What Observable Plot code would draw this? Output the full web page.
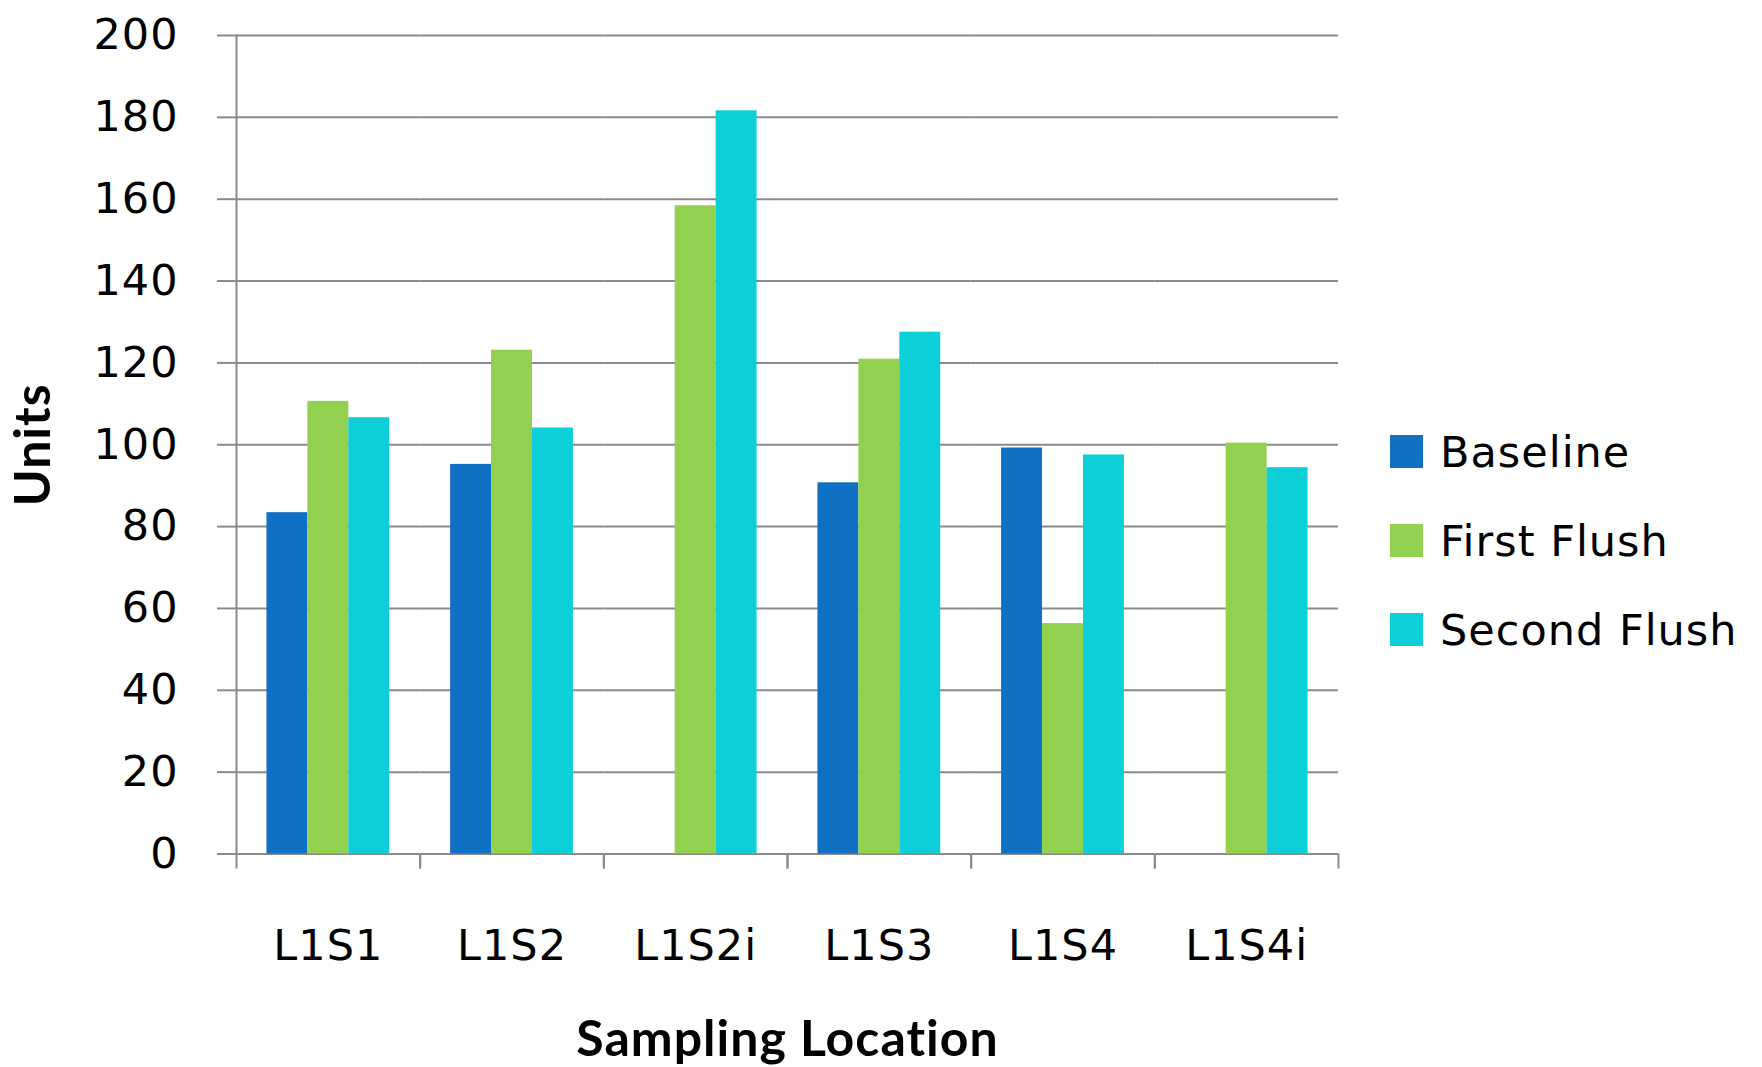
<!DOCTYPE html>
<html><head><meta charset="utf-8">
<script src="https://cdn.jsdelivr.net/npm/d3@7"></script>
<script src="https://cdn.jsdelivr.net/npm/@observablehq/plot@0.6"></script>
<style>
html,body{margin:0;padding:0;background:#fff;}
#wrap{position:relative;width:1762px;height:1067px;overflow:hidden;background:#fff;}
#chart{position:absolute;left:0;top:0;}
#legend{position:absolute;left:1390px;top:407px;width:372px;}
#legend .lg-swatches{font-family:"DejaVu Sans",sans-serif;font-size:43px;letter-spacing:1px;color:#000;margin:0;}
#legend .lg-swatch{height:89px;padding:0;margin:0;display:flex;align-items:center;}
#legend .lg-swatch svg{margin-right:17px;}
</style></head><body>
<div id="wrap"><div id="chart"></div><div id="legend"></div></div>
<script>
const categories = ["L1S1", "L1S2", "L1S2i", "L1S3", "L1S4", "L1S4i"];
const seriesNames = ["Baseline", "First Flush", "Second Flush"];
const baseline = [83.4, 95.2, null, 90.7, 99.2, null];
const firstFlush = [110.6, 123.1, 158.4, 120.9, 56.3, 100.4];
const secondFlush = [106.6, 104.1, 181.6, 127.5, 97.5, 94.4];
const colors = ["#1070C4", "#92D050", "#0CCFD8"];
const yTicks = [0, 20, 40, 60, 80, 100, 120, 140, 160, 180, 200];

const seriesValues = [baseline, firstFlush, secondFlush];
const data = [];
categories.forEach((c, i) => {
  seriesValues.forEach((arr, j) => {
    if (arr[i] != null) data.push({category: c, series: seriesNames[j], value: arr[i]});
  });
});

const W = 1380, H = 1067;
const mL = 236, mR = 42, mT = 35, mB = 213.5;
const step = (W - mL - mR) / categories.length;
const gray = "#8a8a8a";

const plot = Plot.plot({
  width: W, height: H,
  marginLeft: mL, marginRight: mR, marginTop: mT, marginBottom: mB,
  style: {fontFamily: "DejaVu Sans, sans-serif", fontSize: "43px", color: "#000", background: "#fff", overflow: "visible", letterSpacing: "1px"},
  fx: {domain: categories, paddingInner: 0, paddingOuter: 0, label: null, round: false},
  x: {domain: seriesNames, paddingInner: 0, paddingOuter: 0.744, axis: null, round: false},
  y: {domain: [0, 200], label: null},
  color: {domain: seriesNames, range: colors},
  marks: [
    Plot.gridY(yTicks, {stroke: gray, strokeOpacity: 1, strokeWidth: 2}),
    Plot.barY(data, {fx: "category", x: "series", y: "value", fill: "series"}),
    Plot.frame({anchor: "left", fx: () => categories[0], stroke: gray, strokeWidth: 2}),
    Plot.axisY(yTicks, {anchor: "left", tickSize: 19, tickPadding: 39, stroke: gray, strokeWidth: 2, fill: "#000", label: null}),
    Plot.axisY([], {anchor: "left", tickSize: 0, label: "Units", labelArrow: "none", labelAnchor: "center", labelOffset: 222, fontFamily: "Lato, sans-serif", fontWeight: "bold", fontSize: 50, letterSpacing: "0px", fill: "#000"}),
    Plot.axisFx({anchor: "bottom", tickSize: 0, tickPadding: 75, fill: "#000", label: null}),
    Plot.axisFx({anchor: "bottom", tickSize: 15, stroke: gray, strokeWidth: 2, fill: "none", dx: -step / 2, label: null}),
    Plot.axisFx([categories[categories.length - 1]], {anchor: "bottom", tickSize: 15, stroke: gray, strokeWidth: 2, fill: "none", dx: step / 2, label: null}),
    Plot.axisFx([], {anchor: "bottom", tickSize: 0, label: "Sampling Location", labelArrow: "none", labelAnchor: "center", labelOffset: 202, fontFamily: "Lato, sans-serif", fontWeight: "bold", fontSize: 50, letterSpacing: "0px", fill: "#000"})
  ]
});
document.getElementById("chart").appendChild(plot);

const legend = Plot.legend({
  color: {domain: seriesNames, range: colors},
  legend: "swatches",
  columns: 1,
  swatchSize: 33,
  className: "lg"
});
document.getElementById("legend").appendChild(legend);
</script>
</body></html>
